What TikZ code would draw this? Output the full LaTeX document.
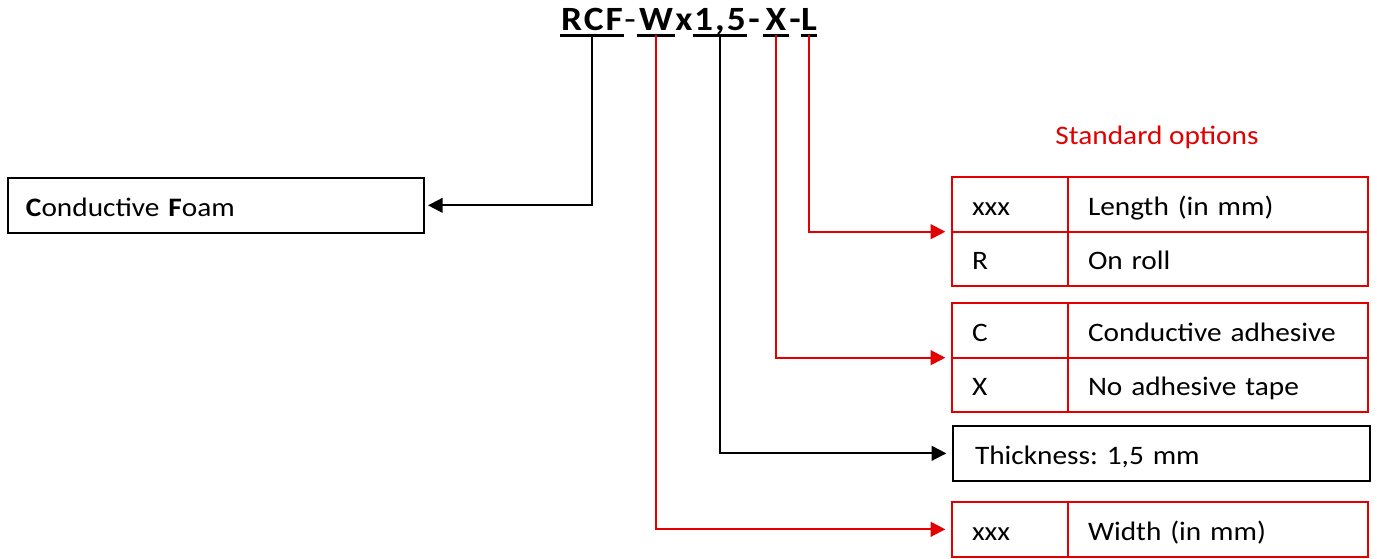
\documentclass[tikz,border=0pt]{standalone}
\usepackage{fontspec}
\setmainfont{Carlito}[FakeStretch=1.1]
\usepackage{xcolor}
\usetikzlibrary{positioning,arrows.meta}
\definecolor{optred}{RGB}{226,0,0}
\frenchspacing

\begin{document}
\begin{tikzpicture}[
    x=0.75pt, y=-0.75pt,
    part/.style={inner sep=0pt, anchor=base, text height=15pt, text depth=3.75pt,
                 font=\fontsize{25.5}{30}\selectfont\bfseries\addfontfeature{LetterSpace=6}},
    uline/.style={line width=2.25pt},
    box/.style={rectangle, draw=black, line width=1.5pt, outer sep=0pt, inner xsep=15pt,
                minimum height=41pt, align=left, text height=16.5pt, text depth=0.5pt,
                font=\fontsize{20}{24}\selectfont},
    code/.style={box, draw=optred, text width=57pt},
    desc/.style={box, draw=optred, text width=195pt},
    blkarr/.style={-{Triangle[length=11pt,width=11pt]}, line width=1.5pt, shorten >=5pt},
    redarr/.style={blkarr, color=optred}
]
\useasboundingbox (0,0) rectangle (1377,558);

% Part number
\node[part, minimum width=47pt]   (rcf) at (592,30) {RCF};
\node[part, font=\fontsize{25.5}{30}\selectfont] (d1) at (630,30) {-};
\node[part, minimum width=28.5pt] (wid) at (656,30) {W};
\node[part]                       (by)  at (684,30) {x};
\node[part, minimum width=40.5pt] (thk) at (720,30) {1,5};
\node[part]                       (d2)  at (754,30) {-};
\node[part, minimum width=19pt]   (adh) at (776,30) {X};
\node[part]                       (d3)  at (795,30) {-};
\node[part, minimum width=12pt]   (len) at (809,30) {L};
\foreach \p in {rcf,wid,thk,adh,len}
  \draw[uline] (\p.south west) -- (\p.south east);

% Description boxes
\node[box, anchor=north west, inner xsep=13.5pt, text width=285pt] (foam) at (8,178)
     {\textbf{C}onductive \textbf{F}oam};
\node[font=\fontsize{20}{24}\selectfont, text=optred] (std) at (1157,137) {Standard options};

\node[code, anchor=north west] (lenx) at (952,177) {xxx};
\node[desc, right=0pt of lenx]  (lend) {Length (in mm)};
\node[code, below=0pt of lenx]  (rolx) {R};
\node[desc, right=0pt of rolx]  (rold) {On roll};

\node[code, anchor=north west] (adhc) at (952,303) {C};
\node[desc, right=0pt of adhc]  (adhd) {Conductive adhesive};
\node[code, below=0pt of adhc]  (nadx) {X};
\node[desc, right=0pt of nadx]  (nadd) {No adhesive tape};

\node[box, anchor=north west, inner xsep=16.5pt, text width=279.75pt] (thick) at (953,426)
     {Thickness: 1,5 mm};

\node[code, anchor=north west] (widx) at (952,502) {xxx};
\node[desc, right=0pt of widx]  (widd) {Width (in mm)};

% Arrows
\draw[blkarr, shorten >=3pt] (rcf.south) |- (foam.east);
\draw[redarr] (wid.south) |- (widx.west);
\draw[blkarr] (thk.south) |- (thick.west);
\draw[redarr] (adh.south) |- (adhc.south west);
\draw[redarr] (len.south) |- (lenx.south west);

\end{tikzpicture}
\end{document}
